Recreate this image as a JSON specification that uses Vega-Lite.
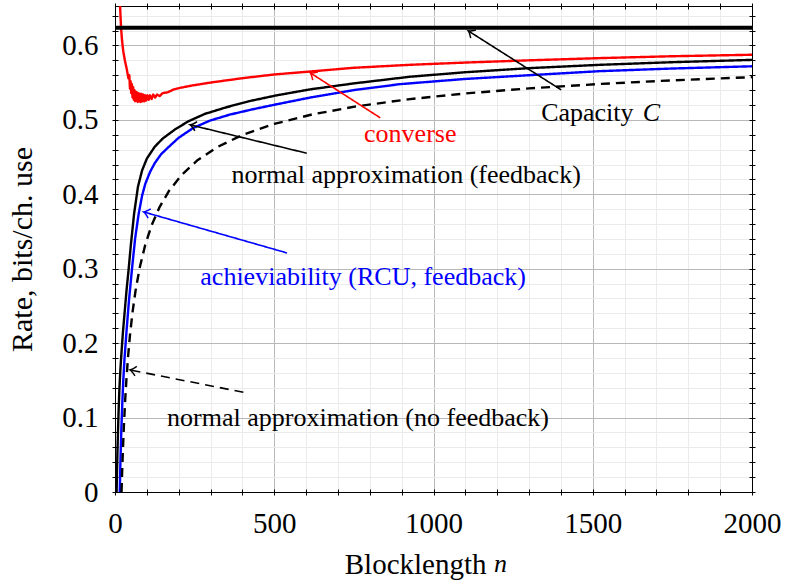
{
  "$schema": "https://vega.github.io/schema/vega-lite/v6.json",
  "width": 637,
  "height": 486,
  "autosize": {"type": "none"},
  "padding": {"left": 115, "top": 6, "right": 33, "bottom": 89},
  "background": "white",
  "config": {"view": {"stroke": "black", "strokeWidth": 1}, "font": "Liberation Serif"},
  "resolve": {"axis": {"x": "independent", "y": "independent"}},
  "datasets": {
    "curves": [
      {"s": "capacity", "n": 0, "v": 0.6237}, {"s": "capacity", "n": 2000, "v": 0.6237},
      {"s": "converse", "n": 12, "v": 0.70}, {"s": "converse", "n": 16, "v": 0.652}, {"s": "converse", "n": 19, "v": 0.624}, {"s": "converse", "n": 22, "v": 0.607}, {"s": "converse", "n": 26, "v": 0.592}, {"s": "converse", "n": 31, "v": 0.58}, {"s": "converse", "n": 37, "v": 0.568}, {"s": "converse", "n": 42, "v": 0.556}, {"s": "converse", "n": 45, "v": 0.56}, {"s": "converse", "n": 47, "v": 0.542}, {"s": "converse", "n": 49, "v": 0.552}, {"s": "converse", "n": 51, "v": 0.536}, {"s": "converse", "n": 53, "v": 0.548}, {"s": "converse", "n": 55, "v": 0.53}, {"s": "converse", "n": 57, "v": 0.544}, {"s": "converse", "n": 59, "v": 0.527}, {"s": "converse", "n": 61, "v": 0.54}, {"s": "converse", "n": 63, "v": 0.525}, {"s": "converse", "n": 65, "v": 0.538}, {"s": "converse", "n": 67, "v": 0.526}, {"s": "converse", "n": 69, "v": 0.537}, {"s": "converse", "n": 71, "v": 0.524}, {"s": "converse", "n": 73, "v": 0.536}, {"s": "converse", "n": 75, "v": 0.525}, {"s": "converse", "n": 78, "v": 0.535}, {"s": "converse", "n": 80, "v": 0.524}, {"s": "converse", "n": 83, "v": 0.535}, {"s": "converse", "n": 86, "v": 0.525}, {"s": "converse", "n": 89, "v": 0.534}, {"s": "converse", "n": 92, "v": 0.525}, {"s": "converse", "n": 95, "v": 0.533}, {"s": "converse", "n": 98, "v": 0.526}, {"s": "converse", "n": 102, "v": 0.533}, {"s": "converse", "n": 106, "v": 0.527}, {"s": "converse", "n": 110, "v": 0.533}, {"s": "converse", "n": 115, "v": 0.528}, {"s": "converse", "n": 120, "v": 0.534}, {"s": "converse", "n": 126, "v": 0.53}, {"s": "converse", "n": 132, "v": 0.534}, {"s": "converse", "n": 140, "v": 0.532}, {"s": "converse", "n": 150, "v": 0.536}, {"s": "converse", "n": 165, "v": 0.537}, {"s": "converse", "n": 185, "v": 0.541}, {"s": "converse", "n": 204, "v": 0.543}, {"s": "converse", "n": 240, "v": 0.546}, {"s": "converse", "n": 298, "v": 0.55}, {"s": "converse", "n": 400, "v": 0.556}, {"s": "converse", "n": 500, "v": 0.561}, {"s": "converse", "n": 613, "v": 0.565}, {"s": "converse", "n": 750, "v": 0.57}, {"s": "converse", "n": 927, "v": 0.574}, {"s": "converse", "n": 1100, "v": 0.577}, {"s": "converse", "n": 1300, "v": 0.58}, {"s": "converse", "n": 1524, "v": 0.583}, {"s": "converse", "n": 1750, "v": 0.5855}, {"s": "converse", "n": 2000, "v": 0.5875},
      {"s": "feedback", "n": 5, "v": 0}, {"s": "feedback", "n": 8, "v": 0.06}, {"s": "feedback", "n": 11, "v": 0.105}, {"s": "feedback", "n": 14, "v": 0.14}, {"s": "feedback", "n": 17, "v": 0.165}, {"s": "feedback", "n": 20, "v": 0.185}, {"s": "feedback", "n": 25, "v": 0.215}, {"s": "feedback", "n": 30, "v": 0.24}, {"s": "feedback", "n": 36, "v": 0.27}, {"s": "feedback", "n": 43, "v": 0.30}, {"s": "feedback", "n": 50, "v": 0.333}, {"s": "feedback", "n": 60, "v": 0.374}, {"s": "feedback", "n": 72, "v": 0.41}, {"s": "feedback", "n": 85, "v": 0.432}, {"s": "feedback", "n": 100, "v": 0.448}, {"s": "feedback", "n": 125, "v": 0.464}, {"s": "feedback", "n": 150, "v": 0.475}, {"s": "feedback", "n": 188, "v": 0.487}, {"s": "feedback", "n": 230, "v": 0.498}, {"s": "feedback", "n": 282, "v": 0.508}, {"s": "feedback", "n": 350, "v": 0.517}, {"s": "feedback", "n": 420, "v": 0.525}, {"s": "feedback", "n": 508, "v": 0.533}, {"s": "feedback", "n": 613, "v": 0.541}, {"s": "feedback", "n": 750, "v": 0.549}, {"s": "feedback", "n": 927, "v": 0.558}, {"s": "feedback", "n": 1100, "v": 0.564}, {"s": "feedback", "n": 1300, "v": 0.5695}, {"s": "feedback", "n": 1524, "v": 0.574}, {"s": "feedback", "n": 1750, "v": 0.5775}, {"s": "feedback", "n": 2000, "v": 0.5806},
      {"s": "rcu", "n": 15, "v": 0}, {"s": "rcu", "n": 17, "v": 0.04}, {"s": "rcu", "n": 20, "v": 0.085}, {"s": "rcu", "n": 23, "v": 0.12}, {"s": "rcu", "n": 26, "v": 0.15}, {"s": "rcu", "n": 30, "v": 0.18}, {"s": "rcu", "n": 36, "v": 0.215}, {"s": "rcu", "n": 44, "v": 0.258}, {"s": "rcu", "n": 53, "v": 0.298}, {"s": "rcu", "n": 63, "v": 0.34}, {"s": "rcu", "n": 74, "v": 0.373}, {"s": "rcu", "n": 85, "v": 0.398}, {"s": "rcu", "n": 95, "v": 0.414}, {"s": "rcu", "n": 110, "v": 0.43}, {"s": "rcu", "n": 125, "v": 0.442}, {"s": "rcu", "n": 145, "v": 0.454}, {"s": "rcu", "n": 167, "v": 0.463}, {"s": "rcu", "n": 200, "v": 0.476}, {"s": "rcu", "n": 245, "v": 0.489}, {"s": "rcu", "n": 298, "v": 0.499}, {"s": "rcu", "n": 360, "v": 0.507}, {"s": "rcu", "n": 430, "v": 0.514}, {"s": "rcu", "n": 508, "v": 0.521}, {"s": "rcu", "n": 613, "v": 0.53}, {"s": "rcu", "n": 750, "v": 0.54}, {"s": "rcu", "n": 895, "v": 0.548}, {"s": "rcu", "n": 1100, "v": 0.555}, {"s": "rcu", "n": 1300, "v": 0.56}, {"s": "rcu", "n": 1524, "v": 0.5655}, {"s": "rcu", "n": 1750, "v": 0.569}, {"s": "rcu", "n": 2000, "v": 0.572},
      {"s": "nofeedback", "n": 20.5, "v": 0}, {"s": "nofeedback", "n": 22, "v": 0.0215}, {"s": "nofeedback", "n": 25, "v": 0.0586}, {"s": "nofeedback", "n": 28, "v": 0.0896}, {"s": "nofeedback", "n": 32, "v": 0.1238}, {"s": "nofeedback", "n": 36, "v": 0.1522}, {"s": "nofeedback", "n": 41, "v": 0.1817}, {"s": "nofeedback", "n": 47, "v": 0.2106}, {"s": "nofeedback", "n": 55, "v": 0.2416}, {"s": "nofeedback", "n": 65, "v": 0.2719}, {"s": "nofeedback", "n": 78, "v": 0.3023}, {"s": "nofeedback", "n": 95, "v": 0.3321}, {"s": "nofeedback", "n": 115, "v": 0.3584}, {"s": "nofeedback", "n": 140, "v": 0.3829}, {"s": "nofeedback", "n": 170, "v": 0.4048}, {"s": "nofeedback", "n": 210, "v": 0.4264}, {"s": "nofeedback", "n": 260, "v": 0.4461}, {"s": "nofeedback", "n": 320, "v": 0.4632}, {"s": "nofeedback", "n": 400, "v": 0.4798}, {"s": "nofeedback", "n": 500, "v": 0.4946}, {"s": "nofeedback", "n": 620, "v": 0.5074}, {"s": "nofeedback", "n": 760, "v": 0.5183}, {"s": "nofeedback", "n": 920, "v": 0.5276}, {"s": "nofeedback", "n": 1100, "v": 0.5355}, {"s": "nofeedback", "n": 1300, "v": 0.5423}, {"s": "nofeedback", "n": 1525, "v": 0.5483}, {"s": "nofeedback", "n": 1750, "v": 0.5531}, {"s": "nofeedback", "n": 2000, "v": 0.5574}
    ],
    "arrows": [
      {"s": "capacity", "n1": 1401, "v1": 0.5403, "n2": 1109, "v2": 0.6196},
      {"s": "converse", "n1": 833, "v1": 0.5027, "n2": 613, "v2": 0.5632},
      {"s": "feedback", "n1": 602, "v1": 0.4552, "n2": 236, "v2": 0.4933},
      {"s": "rcu", "n1": 540, "v1": 0.3212, "n2": 90, "v2": 0.3763},
      {"s": "nofeedback", "n1": 403, "v1": 0.134, "n2": 47, "v2": 0.164}
    ],
    "labels": [
      {"s": "capacity", "t": "Capacity", "n": 1483, "v": 0.4987},
      {"s": "converse", "t": "converse", "n": 927, "v": 0.4708},
      {"s": "feedback", "t": "normal approximation (feedback)", "n": 914, "v": 0.4157},
      {"s": "rcu", "t": "achieviability (RCU, feedback)", "n": 779, "v": 0.2782},
      {"s": "nofeedback", "t": "normal approximation (no feedback)", "n": 763, "v": 0.0887}
    ],
    "italic": [
      {"t": "C", "n": 1684, "v": 0.4987},
      {"t": "n", "n": 1210, "v": -0.1075}
    ]
  },
  "layer": [
    {
      "data": {"name": "curves"},
      "transform": [{"filter": "datum.s !== 'capacity'"}],
      "mark": {"type": "line", "clip": true, "strokeJoin": "round", "strokeWidth": 2.4},
      "encoding": {
        "x": {"field": "n", "type": "quantitative", "scale": {"domain": [0, 2000], "nice": false},
          "axis": {"orient": "bottom", "values": [0,100,200,300,400,500,600,700,800,900,1000,1100,1200,1300,1400,1500,1600,1700,1800,1900,2000],
            "offset": -3, "tickSize": 6, "tickColor": "black", "tickWidth": 1, "domain": false,
            "grid": true, "gridWidth": 1,
            "gridColor": {"condition": {"test": "datum.value % 500 === 0", "value": "#b8b8b8"}, "value": "#ebebeb"},
            "gridOpacity": {"condition": {"test": "datum.value === 0 || datum.value === 2000", "value": 0}, "value": 1},
            "labelExpr": "datum.value % 500 === 0 ? '' + datum.value : ''",
            "labelFont": "Liberation Serif", "labelFontSize": 29, "labelColor": "black", "labelPadding": 14, "labelFlush": false, "labelOverlap": false,
            "title": "Blocklength", "titleFont": "Liberation Serif", "titleFontSize": 29, "titleFontWeight": "normal", "titleColor": "black",
            "titleAlign": "right", "titleBaseline": "alphabetic", "titleX": 371, "titleY": 84}},
        "y": {"field": "v", "type": "quantitative", "scale": {"domain": [0, 0.653], "nice": false},
          "axis": {"orient": "left", "values": [0,0.02,0.04,0.06,0.08,0.1,0.12,0.14,0.16,0.18,0.2,0.22,0.24,0.26,0.28,0.3,0.32,0.34,0.36,0.38,0.4,0.42,0.44,0.46,0.48,0.5,0.52,0.54,0.56,0.58,0.6,0.62,0.64],
            "offset": -3, "tickSize": 6, "tickColor": "black", "tickWidth": 1, "domain": false,
            "grid": true, "gridWidth": 1,
            "gridColor": {"condition": {"test": "abs(datum.value*10 - round(datum.value*10)) < 0.001", "value": "#b8b8b8"}, "value": "#ebebeb"},
            "gridOpacity": {"condition": {"test": "datum.value === 0", "value": 0}, "value": 1},
            "labelExpr": "abs(datum.value*10 - round(datum.value*10)) < 0.001 ? '' + round(datum.value*10)/10 : ''",
            "labelFont": "Liberation Serif", "labelFontSize": 29, "labelColor": "black", "labelPadding": 14, "labelFlush": false, "labelOverlap": false,
            "title": "Rate, bits/ch. use", "titleFont": "Liberation Serif", "titleFontSize": 30, "titleFontWeight": "normal", "titleColor": "black", "titlePadding": 24}},
        "color": {"field": "s", "type": "nominal", "legend": null,
          "scale": {"domain": ["capacity", "converse", "feedback", "rcu", "nofeedback"], "range": ["black", "#ff0000", "black", "#0000ff", "black"]}},
        "strokeDash": {"field": "s", "type": "nominal", "legend": null,
          "scale": {"domain": ["capacity", "converse", "feedback", "rcu", "nofeedback"], "range": [[1, 0], [1, 0], [1, 0], [1, 0], [9, 6]]}}
      }
    },
    {
      "data": {"name": "curves"},
      "transform": [{"filter": "datum.s === 'capacity'"}],
      "mark": {"type": "line", "clip": true, "strokeWidth": 4, "color": "black"},
      "encoding": {
        "x": {"field": "n", "type": "quantitative", "scale": {"domain": [0, 2000], "nice": false}, "axis": null},
        "y": {"field": "v", "type": "quantitative", "scale": {"domain": [0, 0.653], "nice": false}, "axis": null}
      }
    },
    {
      "data": {"name": "arrows"},
      "mark": {"type": "rule", "strokeWidth": 1.6},
      "encoding": {
        "x": {"field": "n1", "type": "quantitative", "scale": {"domain": [0, 2000], "nice": false},
          "axis": {"orient": "top", "values": [0,100,200,300,400,500,600,700,800,900,1000,1100,1200,1300,1400,1500,1600,1700,1800,1900,2000],
            "offset": -3, "tickSize": 6, "tickColor": "black", "tickWidth": 1, "domain": false, "grid": false, "labels": false, "title": null}},
        "x2": {"field": "n2"},
        "y": {"field": "v1", "type": "quantitative", "scale": {"domain": [0, 0.653], "nice": false},
          "axis": {"orient": "right", "values": [0,0.02,0.04,0.06,0.08,0.1,0.12,0.14,0.16,0.18,0.2,0.22,0.24,0.26,0.28,0.3,0.32,0.34,0.36,0.38,0.4,0.42,0.44,0.46,0.48,0.5,0.52,0.54,0.56,0.58,0.6,0.62,0.64],
            "offset": -3, "tickSize": 6, "tickColor": "black", "tickWidth": 1, "domain": false, "grid": false, "labels": false, "title": null}},
        "y2": {"field": "v2"},
        "color": {"field": "s", "type": "nominal", "legend": null},
        "strokeDash": {"field": "s", "type": "nominal", "legend": null}
      }
    },
    {
      "data": {"name": "arrows"},
      "transform": [
        {"calculate": "atan2(-(datum.v2 - datum.v1) * 744, (datum.n2 - datum.n1) * 0.3183) * 180 / PI", "as": "ang"}
      ],
      "mark": {"type": "point", "shape": "M -1 -0.8 Q -0.35 -0.12 0 0 Q -0.35 0.12 -1 0.8", "filled": false, "size": 144, "strokeWidth": 1.5, "opacity": 1},
      "encoding": {
        "x": {"field": "n2", "type": "quantitative", "scale": {"domain": [0, 2000], "nice": false}, "axis": null},
        "y": {"field": "v2", "type": "quantitative", "scale": {"domain": [0, 0.653], "nice": false}, "axis": null},
        "color": {"field": "s", "type": "nominal", "legend": null},
        "angle": {"field": "ang", "type": "quantitative", "scale": null}
      }
    },
    {
      "data": {"name": "labels"},
      "mark": {"type": "text", "font": "Liberation Serif", "fontSize": 26, "align": "center", "baseline": "alphabetic"},
      "encoding": {
        "x": {"field": "n", "type": "quantitative", "scale": {"domain": [0, 2000], "nice": false}, "axis": null},
        "y": {"field": "v", "type": "quantitative", "scale": {"domain": [0, 0.653], "nice": false}, "axis": null},
        "text": {"field": "t"},
        "color": {"field": "s", "type": "nominal", "legend": null}
      }
    },
    {
      "data": {"name": "italic"},
      "mark": {"type": "text", "font": "Liberation Serif", "fontSize": 26, "fontStyle": "italic", "align": "center", "baseline": "alphabetic", "color": "black"},
      "encoding": {
        "x": {"field": "n", "type": "quantitative", "scale": {"domain": [0, 2000], "nice": false}, "axis": null},
        "y": {"field": "v", "type": "quantitative", "scale": {"domain": [0, 0.653], "nice": false}, "axis": null},
        "text": {"field": "t"}
      }
    }
  ]
}
